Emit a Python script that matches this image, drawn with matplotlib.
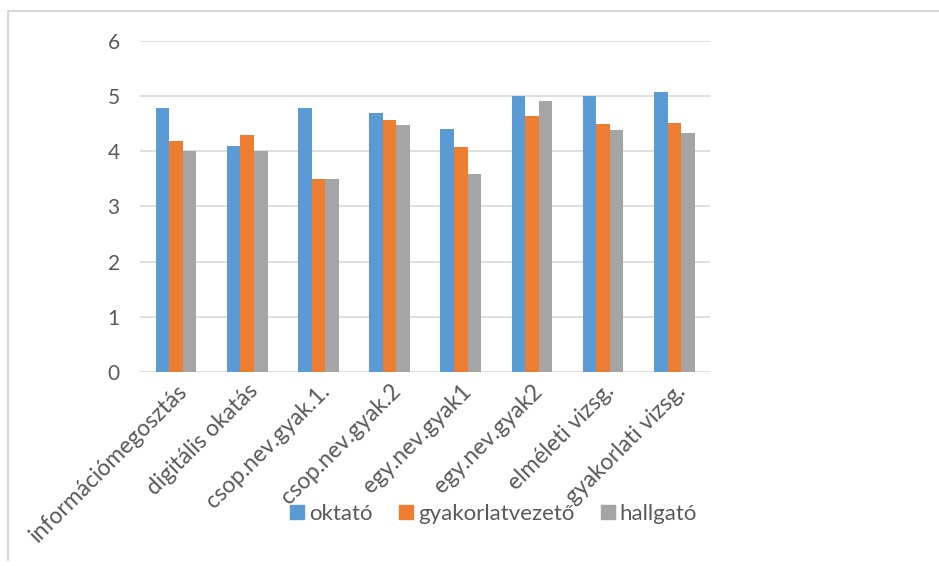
import matplotlib
matplotlib.use("Agg")
import matplotlib.pyplot as plt
import numpy as np
from matplotlib.lines import Line2D

categories = ["információmegosztás", "digitális okatás", "csop.nev.gyak.1.", "csop.nev.gyak.2",
              "egy.nev.gyak1", "egy.nev.gyak2", "elméleti vizsg.", "gyakorlati vizsg."]
series_names = ["oktató", "gyakorlatvezető", "hallgató"]
oktato = [4.78, 4.10, 4.78, 4.70, 4.41, 5.00, 5.00, 5.07]
gyakorlatvezeto = [4.19, 4.30, 3.49, 4.56, 4.07, 4.64, 4.50, 4.52]
hallgato = [4.00, 4.00, 3.49, 4.48, 3.59, 4.92, 4.38, 4.34]
yticks = [0, 1, 2, 3, 4, 5, 6]

colors = ["#5B9BD5", "#ED7D31", "#A5A5A5"]
txt = "#595959"
plt.rcParams['font.family'] = ['Lato', 'DejaVu Sans']

fig = plt.figure(figsize=(9.39, 5.66), dpi=100)
ax = fig.add_axes([0.1496, 0.3428, 0.6064, 0.5848])

x = np.arange(len(categories))
w = 0.19
for i, (vals, name) in enumerate(zip([oktato, gyakorlatvezeto, hallgato], series_names)):
    ax.bar(x + (i - 1) * w, vals, w, color=colors[i], label=name, zorder=3)

ax.set_xlim(-0.5, len(categories) - 0.5)
ax.set_ylim(0, 6)
ax.set_yticks(yticks)
ax.yaxis.grid(True, color="#d9d9d9", linewidth=1.2, zorder=0)
for s in ax.spines.values():
    s.set_visible(False)
ax.tick_params(axis='both', length=0, labelcolor=txt)
ax.tick_params(axis='y', pad=15, labelsize=15)
ax.set_xticks(x)
ax.set_xticklabels(categories, rotation=45, ha='right', rotation_mode='anchor', fontsize=16.5)
ax.tick_params(axis='x', pad=6)

handles = [plt.Rectangle((0, 0), 1, 1, color=c) for c in colors]
fig.legend(handles, series_names, loc='center', bbox_to_anchor=(0.5256, 0.092), ncol=3,
           frameon=False, fontsize=16, labelcolor=txt, handlelength=0.63, handleheight=0.63,
           handletextpad=0.22, columnspacing=1.2, borderpad=0)

# outer frame (cropped)
fig.add_artist(Line2D([8/939, 8/939], [1 - 560/566, 1 - 11/566], color="#d9d9d9", lw=1.5, transform=fig.transFigure))
fig.add_artist(Line2D([8/939, 1.0], [1 - 11/566, 1 - 11/566], color="#d9d9d9", lw=1.5, transform=fig.transFigure))

fig.savefig("out.png", dpi=100)
